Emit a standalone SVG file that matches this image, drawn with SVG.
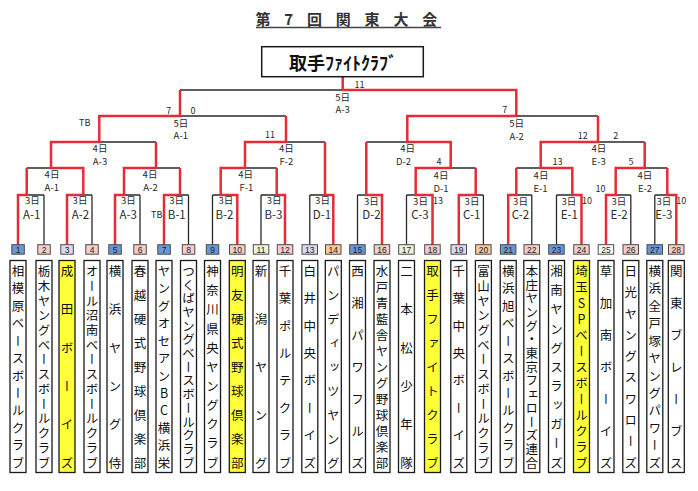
<svg xmlns="http://www.w3.org/2000/svg" width="698" height="491" viewBox="0 0 698 491">
<style>
.t{font-family:"Noto Sans CJK JP","Liberation Sans",sans-serif;fill:#2a2a2a;text-anchor:middle;dominant-baseline:central}
.lb{font-size:9.5px}
.lb2{font-size:11.5px}
.sc{font-size:9px}
.nb{fill:none;stroke:#2a2a2a;stroke-width:1.3}
.rd{fill:none;stroke:#e42c36;stroke-width:2.5;stroke-linejoin:miter}
.nr{stroke:#4a4a4a;stroke-width:1}
.nt{font-family:"Liberation Sans",sans-serif;font-size:8.5px;fill:#222;text-anchor:middle;dominant-baseline:central}
.nbox{fill:#fff;stroke:#1a1a1a;stroke-width:1.3}
.yel{fill:#ffff3a}
.nm{font-family:"Noto Sans CJK JP",sans-serif;font-size:12.5px;fill:#111;writing-mode:vertical-rl;text-anchor:start}
.up{text-orientation:upright}
.b{fill:#6b96d6}.p{fill:#f6cdc9}.l{fill:#dcdaf2}.g{fill:#eef4d8}.o{fill:#f8c99a}.w{fill:#fff}
</style>
<rect width="698" height="491" fill="#fff"/>
<g id="title">
<text class="t" x="349" y="18" style="font-size:15px;font-weight:bold;fill:#333;text-anchor:middle" letter-spacing="5.2">第 7 回 関 東 大 会</text>
<line x1="256" y1="27.5" x2="441" y2="27.5" stroke="#444" stroke-width="1.5"/>
</g>
<g id="connectors">
<path class="nb" d="M44 195V244.7M92 195V244.7M140 195V244.7M188.5 195V244.7M212.5 195V244.7M261 195V244.7M309.8 195V244.7M357.5 195V244.7M406.5 195V244.7M483.4 195V244.7M531.8 195V244.7M556.5 195V244.7M630.8 195V244.7M654.8 195V244.7
M26.7 195H44M83.3 195H92M124 195H140M180 195H188.5M212.5 195H220.7M261 195H276.7M309.8 195H325M357.5 195H366.3M406.5 195H415.7M475.7 195H483.4M516.3 195H531.8M556.5 195H572.3M615.7 195H630.8M654.8 195H667.3
M26.7 168H51M156 168H180M245 168H276.7M450.7 168H475.7M516.3 168H540.7M644.7 168H667.3
M99.3 142H156M286 142H325M366.3 142H407.3M598 142H644.7
M180 116H286M516.3 116H598M180 90H342.7"/>
<path class="rd" d="M18 244.7V195H26.7V168"/>
<path class="rd" d="M67 244.7V195H83.3V168H51V142H99.3V116H180V90"/>
<path class="rd" d="M115 244.7V195H124V168H156V142"/>
<path class="rd" d="M164 244.7V195H180V168"/>
<path class="rd" d="M237.3 244.7V195H220.7V168H245V142H286V116"/>
<path class="rd" d="M285 244.7V195H276.7V168"/>
<path class="rd" d="M333.3 244.7V195H325V142"/>
<path class="rd" d="M382 244.7V195H366.3V142"/>
<path class="rd" d="M432.5 244.7V195H415.7V168H450.7V142H407.3V116H516.3V90H342.7V76.7"/>
<path class="rd" d="M458.8 244.7V195H475.7V168"/>
<path class="rd" d="M508.2 244.7V195H516.3V168"/>
<path class="rd" d="M581.5 244.7V195H572.3V168H540.7V142H598V116"/>
<path class="rd" d="M606 244.7V195H615.7V168H644.7V142"/>
<path class="rd" d="M676.3 244.7V195H667.3V168"/>
<g id="match-labels">
<text class="t lb" x="342.6" y="96.5">5日</text><text class="t lb" x="342.6" y="109">A-3</text>
<text class="t lb" x="180.8" y="122.5">5日</text><text class="t lb" x="180.8" y="135.2">A-1</text>
<text class="t lb" x="516.6" y="122.5">5日</text><text class="t lb" x="516.6" y="135.5">A-2</text>
<text class="t lb" x="100" y="148.3">4日</text><text class="t lb" x="100" y="161">A-3</text>
<text class="t lb" x="286.3" y="148.3">4日</text><text class="t lb" x="286.3" y="161">F-2</text>
<text class="t lb" x="407.7" y="148.3">4日</text><text class="t lb" x="403.5" y="161">D-2</text>
<text class="t lb" x="598.8" y="148.3">4日</text><text class="t lb" x="598.7" y="161">E-3</text>
<text class="t lb" x="52" y="174.2">4日</text><text class="t lb" x="51.8" y="187.3">A-1</text>
<text class="t lb" x="150" y="174.2">4日</text><text class="t lb" x="150.5" y="187.3">A-2</text>
<text class="t lb" x="245.7" y="174.2">4日</text><text class="t lb" x="246.5" y="187.3">F-1</text>
<text class="t lb" x="441" y="174.8">4日</text><text class="t lb" x="441" y="188.2">D-1</text>
<text class="t lb" x="541" y="174.8">4日</text><text class="t lb" x="540.5" y="188.2">E-1</text>
<text class="t lb" x="644.8" y="174.8">4日</text><text class="t lb" x="645" y="188.2">E-2</text>
<text class="t lb" x="32.3" y="200.3">3日</text><text class="t lb2" x="31.8" y="214">A-1</text>
<text class="t lb" x="80" y="200.3">3日</text><text class="t lb2" x="80.5" y="214">A-2</text>
<text class="t lb" x="128.3" y="200.3">3日</text><text class="t lb2" x="128.3" y="214">A-3</text>
<text class="t lb" x="176.7" y="200.3">3日</text><text class="t lb2" x="176.8" y="214">B-1</text>
<text class="t lb" x="225.8" y="200.3">3日</text><text class="t lb2" x="224.5" y="214">B-2</text>
<text class="t lb" x="274.2" y="200.3">3日</text><text class="t lb2" x="273.5" y="214">B-3</text>
<text class="t lb" x="322.5" y="200.3">3日</text><text class="t lb2" x="322" y="214">D-1</text>
<text class="t lb" x="371.3" y="200.5">3日</text><text class="t lb2" x="371.5" y="214">D-2</text>
<text class="t lb" x="420.5" y="200.5">3日</text><text class="t lb2" x="420" y="214">C-3</text>
<text class="t lb" x="472" y="200.5">3日</text><text class="t lb2" x="471.8" y="214">C-1</text>
<text class="t lb" x="520.5" y="200.5">3日</text><text class="t lb2" x="520.5" y="214">C-2</text>
<text class="t lb" x="568.8" y="200.5">3日</text><text class="t lb2" x="569.3" y="214">E-1</text>
<text class="t lb" x="618.8" y="200.5">3日</text><text class="t lb2" x="619.2" y="214">E-2</text>
<text class="t lb" x="663.8" y="200.5">3日</text><text class="t lb2" x="663.8" y="214">E-3</text>
</g>
<g id="scores">
<text class="t sc" x="359.5" y="84">11</text>
<text class="t sc" x="168.7" y="110.3">7</text>
<text class="t sc" x="193" y="110.3">0</text>
<text class="t sc" x="84.7" y="122.5">TB</text>
<text class="t sc" x="270" y="134.5">11</text>
<text class="t sc" x="156.7" y="214">TB</text>
<text class="t sc" x="504.7" y="109.7">7</text>
<text class="t sc" x="582.7" y="135.5">12</text>
<text class="t sc" x="615.8" y="135.5">2</text>
<text class="t sc" x="439" y="161">4</text>
<text class="t sc" x="557.5" y="161">13</text>
<text class="t sc" x="631" y="161">5</text>
<text class="t sc" x="600.5" y="188">10</text>
<text class="t sc" x="438" y="200.5">13</text>
<text class="t sc" x="587" y="200.5">10</text>
<text class="t sc" x="681.3" y="200.5">10</text>
</g>
</g>
<g id="champion">
<rect x="261.7" y="46.7" width="161.6" height="30" fill="#fff" stroke="#1a1a1a" stroke-width="1.5"/>
<text class="t" x="343" y="62" style="font-size:18px;font-weight:bold;fill:#111">取手ﾌｧｲﾄｸﾗﾌﾞ</text>
</g>
<g id="team1"><rect class="nr b" x="11.8" y="244.7" width="12.5" height="9.5"/><text class="nt" x="18" y="249.5">1</text><rect class="nbox" x="10" y="260.5" width="16" height="212"/><text class="nm" x="18" y="265 282.4 299.8 317.2 334.6 352.1 369.5 386.9 404.3 421.7 439.1 456.5">相模原ベースボールクラブ</text></g>
<g id="team2"><rect class="nr p" x="37.8" y="244.7" width="12.5" height="9.5"/><text class="nt" x="44" y="249.5">2</text><rect class="nbox" x="36" y="260.5" width="16" height="212"/><text class="nm" x="44" y="265 279.7 294.5 309.2 323.9 338.7 353.4 368.1 382.8 397.6 412.3 427 441.8 456.5">栃木ヤングベースボールクラブ</text></g>
<g id="team3"><rect class="nr l" x="60.8" y="244.7" width="12.5" height="9.5"/><text class="nt" x="67" y="249.5">3</text><rect class="nbox yel" x="59" y="260.5" width="16" height="212"/><text class="nm" x="67" y="265 303.3 341.6 379.9 418.2 456.5">成田ボーイズ</text></g>
<g id="team4"><rect class="nr p" x="85.8" y="244.7" width="12.5" height="9.5"/><text class="nt" x="92" y="249.5">4</text><rect class="nbox" x="84" y="260.5" width="16" height="212"/><text class="nm" x="92" y="265 279.7 294.5 309.2 323.9 338.7 353.4 368.1 382.8 397.6 412.3 427 441.8 456.5">オール沼南ベースボールクラブ</text></g>
<g id="team5"><rect class="nr b" x="108.8" y="244.7" width="12.5" height="9.5"/><text class="nt" x="115" y="249.5">5</text><rect class="nbox" x="107" y="260.5" width="16" height="212"/><text class="nm" x="115" y="265 303.3 341.6 379.9 418.2 456.5">横浜ヤング侍</text></g>
<g id="team6"><rect class="nr p" x="133.8" y="244.7" width="12.5" height="9.5"/><text class="nt" x="140" y="249.5">6</text><rect class="nbox" x="132" y="260.5" width="16" height="212"/><text class="nm" x="140" y="265 288.9 312.9 336.8 360.8 384.7 408.6 432.6 456.5">春越硬式野球倶楽部</text></g>
<g id="team7"><rect class="nr b" x="157.8" y="244.7" width="12.5" height="9.5"/><text class="nt" x="164" y="249.5">7</text><rect class="nbox" x="156" y="260.5" width="16" height="212"/><text class="nm up" x="164" y="265 282.4 299.8 317.2 334.6 352.1 369.5 386.9 404.3 421.7 439.1 456.5">ヤングオセアンBC横浜栄</text></g>
<g id="team8"><rect class="nr p" x="182.3" y="244.7" width="12.5" height="9.5"/><text class="nt" x="188.5" y="249.5">8</text><rect class="nbox" x="180.5" y="260.5" width="16" height="212"/><text class="nm" x="188.5" y="265 278.7 292.4 306 319.7 333.4 347.1 360.8 374.4 388.1 401.8 415.5 429.1 442.8 456.5">つくばヤングベースボールクラブ</text></g>
<g id="team9"><rect class="nr b" x="206.3" y="244.7" width="12.5" height="9.5"/><text class="nt" x="212.5" y="249.5">9</text><rect class="nbox" x="204.5" y="260.5" width="16" height="212"/><text class="nm" x="212.5" y="265 284.2 303.3 322.5 341.6 360.8 379.9 399.1 418.2 437.4 456.5">神奈川県央ヤングクラブ</text></g>
<g id="team10"><rect class="nr p" x="229.5" y="244.7" width="15.5" height="9.5"/><text class="nt" x="237.3" y="249.5">10</text><rect class="nbox yel" x="229.3" y="260.5" width="16" height="212"/><text class="nm" x="237.3" y="265 288.9 312.9 336.8 360.8 384.7 408.6 432.6 456.5">明友硬式野球倶楽部</text></g>
<g id="team11"><rect class="nr g" x="253.3" y="244.7" width="15.5" height="9.5"/><text class="nt" x="261" y="249.5">11</text><rect class="nbox" x="253" y="260.5" width="16" height="212"/><text class="nm" x="261" y="265 312.9 360.8 408.6 456.5">新潟ヤング</text></g>
<g id="team12"><rect class="nr p" x="277.3" y="244.7" width="15.5" height="9.5"/><text class="nt" x="285" y="249.5">12</text><rect class="nbox" x="277" y="260.5" width="16" height="212"/><text class="nm" x="285" y="265 292.4 319.7 347.1 374.4 401.8 429.1 456.5">千葉ポルテクラブ</text></g>
<g id="team13"><rect class="nr l" x="302" y="244.7" width="15.5" height="9.5"/><text class="nt" x="309.8" y="249.5">13</text><rect class="nbox" x="301.8" y="260.5" width="16" height="212"/><text class="nm" x="309.8" y="265 292.4 319.7 347.1 374.4 401.8 429.1 456.5">白井中央ボーイズ</text></g>
<g id="team14"><rect class="nr o" x="325.5" y="244.7" width="15.5" height="9.5"/><text class="nt" x="333.3" y="249.5">14</text><rect class="nbox" x="325.3" y="260.5" width="16" height="212"/><text class="nm" x="333.3" y="265 288.9 312.9 336.8 360.8 384.7 408.6 432.6 456.5">パンディッツヤング</text></g>
<g id="team15"><rect class="nr b" x="349.7" y="244.7" width="15.5" height="9.5"/><text class="nt" x="357.5" y="249.5">15</text><rect class="nbox" x="349.5" y="260.5" width="16" height="212"/><text class="nm" x="357.5" y="265 296.9 328.8 360.8 392.7 424.6 456.5">西湘パワフルズ</text></g>
<g id="team16"><rect class="nr p" x="374.2" y="244.7" width="15.5" height="9.5"/><text class="nt" x="382" y="249.5">16</text><rect class="nbox" x="374" y="260.5" width="16" height="212"/><text class="nm" x="382" y="265 281 296.9 312.9 328.8 344.8 360.8 376.7 392.7 408.6 424.6 440.5 456.5">水戸青藍舎ヤング野球倶楽部</text></g>
<g id="team17"><rect class="nr g" x="398.7" y="244.7" width="15.5" height="9.5"/><text class="nt" x="406.5" y="249.5">17</text><rect class="nbox" x="398.5" y="260.5" width="16" height="212"/><text class="nm" x="406.5" y="265 303.3 341.6 379.9 418.2 456.5">二本松少年隊</text></g>
<g id="team18"><rect class="nr p" x="424.7" y="244.7" width="15.5" height="9.5"/><text class="nt" x="432.5" y="249.5">18</text><rect class="nbox yel" x="424.5" y="260.5" width="16" height="212"/><text class="nm" x="432.5" y="265 288.9 312.9 336.8 360.8 384.7 408.6 432.6 456.5">取手ファイトクラブ</text></g>
<g id="team19"><rect class="nr l" x="451" y="244.7" width="15.5" height="9.5"/><text class="nt" x="458.8" y="249.5">19</text><rect class="nbox" x="450.8" y="260.5" width="16" height="212"/><text class="nm" x="458.8" y="265 292.4 319.7 347.1 374.4 401.8 429.1 456.5">千葉中央ボーイズ</text></g>
<g id="team20"><rect class="nr o" x="475.6" y="244.7" width="15.5" height="9.5"/><text class="nt" x="483.4" y="249.5">20</text><rect class="nbox" x="475.4" y="260.5" width="16" height="212"/><text class="nm" x="483.4" y="265 279.7 294.5 309.2 323.9 338.7 353.4 368.1 382.8 397.6 412.3 427 441.8 456.5">富山ヤングベースボールクラブ</text></g>
<g id="team21"><rect class="nr b" x="500.4" y="244.7" width="15.5" height="9.5"/><text class="nt" x="508.2" y="249.5">21</text><rect class="nbox" x="500.2" y="260.5" width="16" height="212"/><text class="nm" x="508.2" y="265 282.4 299.8 317.2 334.6 352.1 369.5 386.9 404.3 421.7 439.1 456.5">横浜旭ベースボールクラブ</text></g>
<g id="team22"><rect class="nr p" x="524" y="244.7" width="15.5" height="9.5"/><text class="nt" x="531.8" y="249.5">22</text><rect class="nbox" x="523.8" y="260.5" width="16" height="212"/><text class="nm" x="531.8" y="265 278.7 292.4 306 319.7 333.4 347.1 360.8 374.4 388.1 401.8 415.5 429.1 442.8 456.5">本庄ヤング・東京フェローズ連合</text></g>
<g id="team23"><rect class="nr b" x="548.7" y="244.7" width="15.5" height="9.5"/><text class="nt" x="556.5" y="249.5">23</text><rect class="nbox" x="548.5" y="260.5" width="16" height="212"/><text class="nm" x="556.5" y="265 284.2 303.3 322.5 341.6 360.8 379.9 399.1 418.2 437.4 456.5">湘南ヤングスラッガーズ</text></g>
<g id="team24"><rect class="nr p" x="573.7" y="244.7" width="15.5" height="9.5"/><text class="nt" x="581.5" y="249.5">24</text><rect class="nbox yel" x="573.5" y="260.5" width="16" height="212"/><text class="nm up" x="581.5" y="265 281 296.9 312.9 328.8 344.8 360.8 376.7 392.7 408.6 424.6 440.5 456.5">埼玉SPベースボールクラブ</text></g>
<g id="team25"><rect class="nr w" x="598.2" y="244.7" width="15.5" height="9.5"/><text class="nt" x="606" y="249.5">25</text><rect class="nbox" x="598" y="260.5" width="16" height="212"/><text class="nm" x="606" y="265 296.9 328.8 360.8 392.7 424.6 456.5">草加南ボーイズ</text></g>
<g id="team26"><rect class="nr p" x="623" y="244.7" width="15.5" height="9.5"/><text class="nt" x="630.8" y="249.5">26</text><rect class="nbox" x="622.8" y="260.5" width="16" height="212"/><text class="nm" x="630.8" y="265 286.3 307.6 328.8 350.1 371.4 392.7 414 435.2 456.5">日光ヤングスワローズ</text></g>
<g id="team27"><rect class="nr b" x="647" y="244.7" width="15.5" height="9.5"/><text class="nt" x="654.8" y="249.5">27</text><rect class="nbox" x="646.8" y="260.5" width="16" height="212"/><text class="nm" x="654.8" y="265 282.4 299.8 317.2 334.6 352.1 369.5 386.9 404.3 421.7 439.1 456.5">横浜全戸塚ヤングパワーズ</text></g>
<g id="team28"><rect class="nr p" x="668.5" y="244.7" width="15.5" height="9.5"/><text class="nt" x="676.3" y="249.5">28</text><rect class="nbox" x="668.3" y="260.5" width="16" height="212"/><text class="nm" x="676.3" y="265 296.9 328.8 360.8 392.7 424.6 456.5">関東ブレーブス</text></g>
</svg>
